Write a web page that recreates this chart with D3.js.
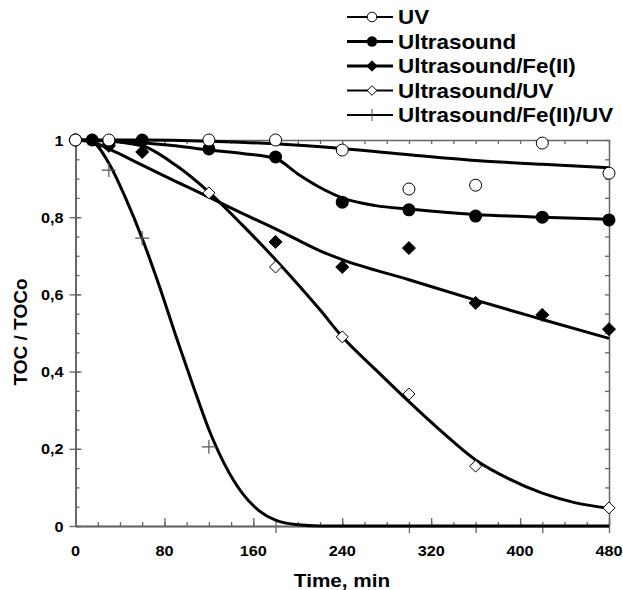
<!DOCTYPE html>
<html>
<head>
<meta charset="utf-8">
<script src="https://cdn.jsdelivr.net/npm/d3@7/dist/d3.min.js"></script>
<style>
  body { margin: 0; background: #fff; }
  text { font-family: "Liberation Sans", Arial, sans-serif; font-weight: bold; fill: #000; }
</style>
</head>
<body>
<div id="chart-area"></div>
<script>
// measured points
var uvT = [0, 30, 120, 180, 240, 300, 360, 420, 480];
var uvV = [1, 1.0, 1.0, 1.0, 0.974, 0.873, 0.883, 0.992, 0.914];
var usT = [0, 15, 30, 60, 120, 180, 240, 300, 360, 420, 480];
var usV = [1, 1, 0.99, 1, 0.977, 0.956, 0.839, 0.819, 0.803, 0.80, 0.793];
var feT = [0, 30, 60, 180, 240, 300, 360, 420, 480];
var feV = [1, 0.985, 0.969, 0.736, 0.671, 0.72, 0.578, 0.547, 0.51];
var usuvT = [0, 120, 180, 240, 300, 360, 480];
var usuvV = [1, 0.863, 0.671, 0.49, 0.342, 0.155, 0.047];
var feuvT = [0, 30, 60, 120];
var feuvV = [1, 0.922, 0.746, 0.205];

// fitted curves
var uvFitT = [0, 60, 120, 180, 240, 300, 360, 420, 480];
var uvFitV = [1, 1.0, 0.997, 0.99, 0.978, 0.962, 0.947, 0.937, 0.928];
var usFitT = [0, 30, 60, 90, 120, 150, 180, 200, 220, 240, 270, 300, 360, 420, 480];
var usFitV = [1, 0.998, 0.993, 0.985, 0.974, 0.965, 0.952, 0.912, 0.877, 0.85, 0.83, 0.821, 0.807, 0.80, 0.795];
var feFitT = [0, 15, 30, 60, 90, 120, 150, 180, 220, 240, 300, 360, 420, 480];
var feFitV = [1, 0.995, 0.977, 0.935, 0.893, 0.852, 0.81, 0.77, 0.713, 0.69, 0.638, 0.585, 0.535, 0.486];
var usuvFitT = [0, 30, 60, 90, 120, 150, 180, 220, 240, 270, 300, 330, 360, 390, 420, 450, 480];
var usuvFitV = [1, 0.997, 0.985, 0.935, 0.865, 0.78, 0.69, 0.56, 0.49, 0.405, 0.322, 0.243, 0.171, 0.122, 0.085, 0.06, 0.046];
var feuvFitT = [0, 15, 30, 45, 60, 75, 90, 105, 120, 135, 150, 165, 180, 200, 220, 480];
var feuvFitV = [1, 0.995, 0.94, 0.85, 0.745, 0.625, 0.495, 0.37, 0.25, 0.155, 0.085, 0.04, 0.015, 0.003, 0, 0];

var names = ["UV", "Ultrasound", "Ultrasound/Fe(II)", "Ultrasound/UV", "Ultrasound/Fe(II)/UV"];
var markers = ["ocircle", "circle", "diamond", "odiamond", "cross"];

var xTicks = [0, 80, 160, 240, 320, 400, 480];
var yTicks = [0, 0.2, 0.4, 0.6, 0.8, 1];
var yLabels = ["0", "0,2", "0,4", "0,6", "0,8", "1"];

var series = [
  { pt: uvT, pv: uvV, ft: uvFitT, fv: uvFitV },
  { pt: usT, pv: usV, ft: usFitT, fv: usFitV },
  { pt: feT, pv: feV, ft: feFitT, fv: feFitV },
  { pt: usuvT, pv: usuvV, ft: usuvFitT, fv: usuvFitV },
  { pt: feuvT, pv: feuvV, ft: feuvFitT, fv: feuvFitV }
];

var svg = d3.select("#chart-area").append("svg")
  .attr("width", 623)
  .attr("height", 590);

var x = d3.scaleLinear().domain([0, 480]).range([75.5, 609]);
var y = d3.scaleLinear().domain([0, 1]).range([526, 140]);
var axisColor = "#666";
var sx = 1.12; // text in the picture is a little wide

function styleAxis(g) {
  g.select(".domain").attr("stroke", axisColor).attr("stroke-width", 1.5);
  g.selectAll(".tick line").attr("stroke", axisColor).attr("stroke-width", 1.3);
  g.selectAll(".tick text").remove();
}

// bottom
svg.append("g").attr("transform", "translate(0,526)")
  .call(d3.axisBottom(x).tickValues(d3.range(0, 481, 20)).tickSize(-4).tickSizeOuter(0)).call(styleAxis);
svg.append("g").attr("transform", "translate(0,526)")
  .call(d3.axisBottom(x).tickValues(xTicks).tickSize(-8).tickSizeOuter(0)).call(styleAxis);
svg.append("g").attr("transform", "translate(0,526)")
  .call(d3.axisBottom(x).tickValues([180, 300, 360, 420, 480]).tickSize(7).tickSizeOuter(0)).call(styleAxis);
// top
svg.append("g").attr("transform", "translate(0,140)")
  .call(d3.axisTop(x).tickValues(d3.range(0, 481, 20)).tickSize(-4).tickSizeOuter(0)).call(styleAxis);
// left
svg.append("g").attr("transform", "translate(75.5,0)")
  .call(d3.axisLeft(y).tickValues(d3.range(0, 1.001, 0.05)).tickSize(-4).tickSizeOuter(0)).call(styleAxis);
svg.append("g").attr("transform", "translate(75.5,0)")
  .call(d3.axisLeft(y).tickValues(yTicks).tickSize(6).tickSizeOuter(0)).call(styleAxis);
svg.append("g").attr("transform", "translate(75.5,0)")
  .call(d3.axisLeft(y).tickValues(yTicks).tickSize(-6).tickSizeOuter(0)).call(styleAxis);
// right
svg.append("g").attr("transform", "translate(609,0)")
  .call(d3.axisRight(y).tickValues(d3.range(0, 1.001, 0.05)).tickSize(-4).tickSizeOuter(0)).call(styleAxis);

// tick labels
xTicks.forEach(function(t) {
  svg.append("text")
    .attr("transform", "translate(" + x(t) + ",555.5) scale(" + sx + ",1)")
    .attr("text-anchor", "middle")
    .style("font-size", "14.5px")
    .text(t);
});
yTicks.forEach(function(t, i) {
  svg.append("text")
    .attr("transform", "translate(63.5," + (y(t) + 5.5) + ") scale(" + sx + ",1)")
    .attr("text-anchor", "end")
    .style("font-size", "14.5px")
    .text(yLabels[i]);
});

svg.append("text")
  .attr("transform", "translate(342,587) scale(" + sx + ",1)")
  .attr("text-anchor", "middle")
  .style("font-size", "18.5px")
  .text("Time, min");
svg.append("text")
  .attr("transform", "translate(27,332) rotate(-90)")
  .attr("text-anchor", "middle")
  .style("font-size", "19px")
  .text("TOC / TOCo");

// fitted curves
var line = d3.line()
  .x(function(d) { return x(d[0]); })
  .y(function(d) { return y(d[1]); })
  .curve(d3.curveMonotoneX);

series.forEach(function(s, i) {
  var pts = s.ft.map(function(t, j) { return [t, s.fv[j]]; });
  svg.append("path")
    .attr("d", line(pts))
    .attr("fill", "none")
    .attr("stroke", "#000")
    .attr("stroke-width", 3);
});

function drawMarker(g, type, cx, cy, big) {
  var k = big ? 1 : 0.8;
  if (type == "ocircle") {
    g.append("circle").attr("cx", cx).attr("cy", cy).attr("r", 6 * k)
      .attr("fill", "#fff").attr("stroke", "#000").attr("stroke-width", 1);
  } else if (type == "circle") {
    g.append("circle").attr("cx", cx).attr("cy", cy).attr("r", 6.5 * k).attr("fill", "#000");
  } else if (type == "diamond" || type == "odiamond") {
    var r = (type == "diamond" ? 6.5 : 6) * k;
    g.append("path")
      .attr("d", "M" + cx + "," + (cy - r) + "L" + (cx + r) + "," + cy + "L" + cx + "," + (cy + r) + "L" + (cx - r) + "," + cy + "Z")
      .attr("fill", type == "diamond" ? "#000" : "#fff")
      .attr("stroke", "#000").attr("stroke-width", 1);
  } else {
    var h = 7 * k;
    g.append("path")
      .attr("d", "M" + (cx - h) + "," + cy + "H" + (cx + h) + "M" + cx + "," + (cy - h) + "V" + (cy + h))
      .attr("stroke", "#555").attr("stroke-width", 1.2);
  }
}

// points, drawn last series first
var pg = svg.append("g");
for (var i = series.length - 1; i >= 0; i--) {
  series[i].pt.forEach(function(t, j) {
    drawMarker(pg, markers[i], x(t), y(series[i].pv[j]), true);
  });
}

// legend
var lineWidths = [2, 3, 3, 2, 2];
names.forEach(function(n, i) {
  var ly = 17 + i * 24.5;
  var g = svg.append("g");
  g.append("line").attr("x1", 347).attr("x2", 393).attr("y1", ly).attr("y2", ly)
    .attr("stroke", "#000").attr("stroke-width", lineWidths[i]);
  if (markers[i] == "cross") {
    g.append("line").attr("x1", 372).attr("x2", 372).attr("y1", ly - 6).attr("y2", ly + 6)
      .attr("stroke", "#555").attr("stroke-width", 1);
  } else {
    drawMarker(g, markers[i], 372, ly, false);
  }
  g.append("text")
    .attr("transform", "translate(398," + (ly + 7) + ") scale(" + sx + ",1)")
    .style("font-size", "20px")
    .text(n);
});
</script>
</body>
</html>
